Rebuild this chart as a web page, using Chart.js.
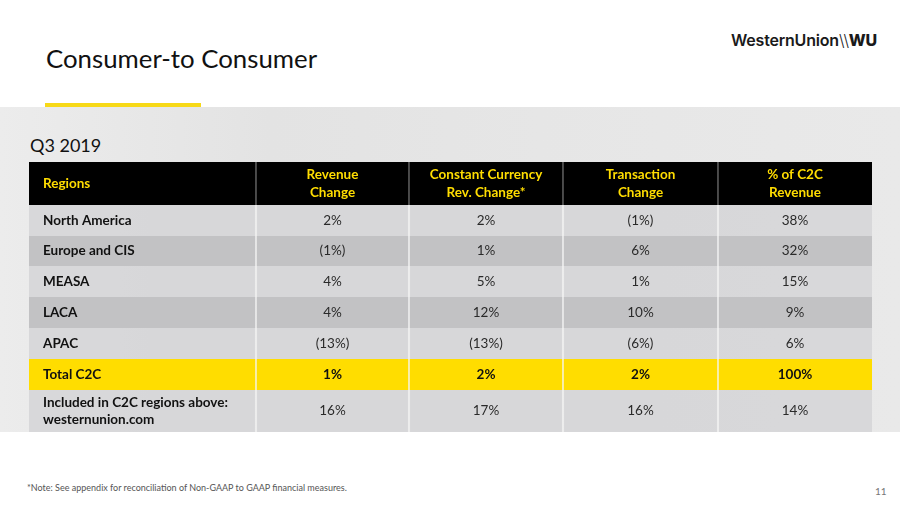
<!DOCTYPE html>
<html>
<head>
<meta charset="utf-8">
<script src="https://cdn.jsdelivr.net/npm/chart.js@4.4.1/dist/chart.umd.min.js"></script>
<style>
  body { margin: 0; width: 900px; height: 506px; position: relative; overflow: hidden; background: #fff; font-family: Lato, "Open Sans", sans-serif; }
  .band { position: absolute; left: 0; top: 107px; width: 900px; height: 325px;
          background: linear-gradient(90deg, #ececec 0%, #e3e3e3 30%, #e6e6e6 60%, #e9e9e9 100%); }
  .title { position: absolute; left: 46px; top: 43px; font-size: 25.8px; color: #111; }
  .rule { position: absolute; left: 45px; top: 103px; width: 156px; height: 4px; background: #f7d917; }
  .logo { position: absolute; left: 731px; top: 30px; font-family: Inter, sans-serif; font-weight: 600; font-size: 16px; color: #1a1a1a; letter-spacing: -0.2px; }
  .logo b { font-weight: 800; }
  .period { position: absolute; left: 30px; top: 134px; font-size: 18px; color: #111; }
  .wrap { position: absolute; left: 29px; top: 162px; width: 843px; height: 270px; }
  .note { position: absolute; left: 27px; top: 482px; font-size: 9px; color: #555; }
  .page { position: absolute; left: 875px; top: 485px; font-size: 10px; color: #777; }
</style>
</head>
<body>
<div class="band"></div>
<div class="title">Consumer-to Consumer</div>
<div class="rule"></div>
<div class="logo">WesternUnion<span style="font-weight:300">\\</span><b>WU</b></div>
<div class="period">Q3 2019</div>
<div class="wrap"><canvas id="table" width="843" height="270"></canvas></div>
<div class="note">*Note: See appendix for reconciliation of Non-GAAP to GAAP financial measures.</div>
<div class="page">11</div>
<script>
// --- table content ---
const headers = ['Regions', 'Revenue\nChange', 'Constant Currency\nRev. Change*', 'Transaction\nChange', '% of C2C\nRevenue'];
const regions = ['North America', 'Europe and CIS', 'MEASA', 'LACA', 'APAC', 'Total C2C', 'Included in C2C regions above:\nwesternunion.com'];
const revenueChange = [2, -1, 4, 4, -13, 1, 16];
const constantCurrencyChange = [2, 1, 5, 12, -13, 2, 17];
const transactionChange = [-1, 6, 1, 10, -6, 2, 16];
const shareOfC2CRevenue = [38, 32, 15, 9, 6, 100, 14];

// --- layout (pixels of the canvas) ---
const colEdges = [0, 227, 380, 534, 689, 843];
const rowHeights = [43, 31, 30, 31, 31, 31, 31, 42];
const tableHeight = rowHeights.reduce((a, b) => a + b, 0);

const fmt = v => v < 0 ? '(' + (-v) + '%)' : v + '%';

const rows = [headers].concat(regions.map((r, i) => [
    r, fmt(revenueChange[i]), fmt(constantCurrencyChange[i]), fmt(transactionChange[i]), fmt(shareOfC2CRevenue[i])
]));

// row centres on the y scale
let acc = 0;
const rowCenters = rowHeights.map(h => { const c = acc + h / 2; acc += h; return c; });

function rowFill(r) {
    if (r === 0) return '#000000';
    if (r === 6) return '#ffdd00';       // Total C2C
    return (r === 2 || r === 4) ? '#c2c2c4' : 'rgba(214,214,216,0.92)';
}

const datasets = rows.map((cells, r) => ({
    label: r === 0 ? 'header' : regions[r - 1],
    data: cells.map((_, c) => ({ x: [colEdges[c], colEdges[c + 1]], y: rowCenters[r] })),
    cells: cells,
    barThickness: rowHeights[r],
    stack: 'table',
    backgroundColor: rowFill(r),
    borderColor: r === 0 ? '#6a6a6a' : 'rgba(245,245,245,0.95)',
    borderWidth: ctx => ({ top: 0, bottom: 0, left: ctx.dataIndex > 0 ? 1 : 0, right: ctx.dataIndex < 4 ? 1 : 0 }),
    borderSkipped: false
}));

// writes the cell texts at the bar positions
const cellText = {
    id: 'cellText',
    afterDatasetsDraw(chart) {
        const ctx = chart.ctx;
        ctx.save();
        ctx.textBaseline = 'middle';
        chart.data.datasets.forEach((ds, r) => {
            const meta = chart.getDatasetMeta(r);
            meta.data.forEach((el, c) => {
                const p = el.getProps(['x', 'base', 'y'], true);
                const left = Math.min(p.x, p.base), right = Math.max(p.x, p.base);
                const bold = r === 0 || c === 0 || r === 6;
                ctx.font = (bold ? 'bold ' : '') + '13.5px Lato, sans-serif';
                ctx.fillStyle = r === 0 ? '#ffdd00' : (c === 0 || r === 6 ? '#111' : '#2a2a2a');
                const lines = ds.cells[c].split('\n');
                const lh = 17.5;
                let tx;
                if (c === 0) { ctx.textAlign = 'left'; tx = left + 14; }
                else { ctx.textAlign = 'center'; tx = (left + right) / 2; }
                lines.forEach((ln, k) => {
                    ctx.fillText(ln, tx, p.y + (k - (lines.length - 1) / 2) * lh);
                });
            });
        });
        ctx.restore();
    }
};

new Chart(document.getElementById('table'), {
    type: 'bar',
    data: { datasets: datasets },
    options: {
        indexAxis: 'y',
        responsive: false,
        animation: false,
        devicePixelRatio: 1,
        layout: { padding: 0 },
        plugins: { legend: { display: false }, tooltip: { enabled: false } },
        scales: {
            x: { type: 'linear', min: 0, max: colEdges[colEdges.length - 1], stacked: false, offset: false, display: false },
            y: { type: 'linear', min: 0, max: tableHeight, reverse: true, offset: false, grid: { offset: false }, display: false }
        }
    },
    plugins: [cellText]
});
</script>
</body>
</html>
